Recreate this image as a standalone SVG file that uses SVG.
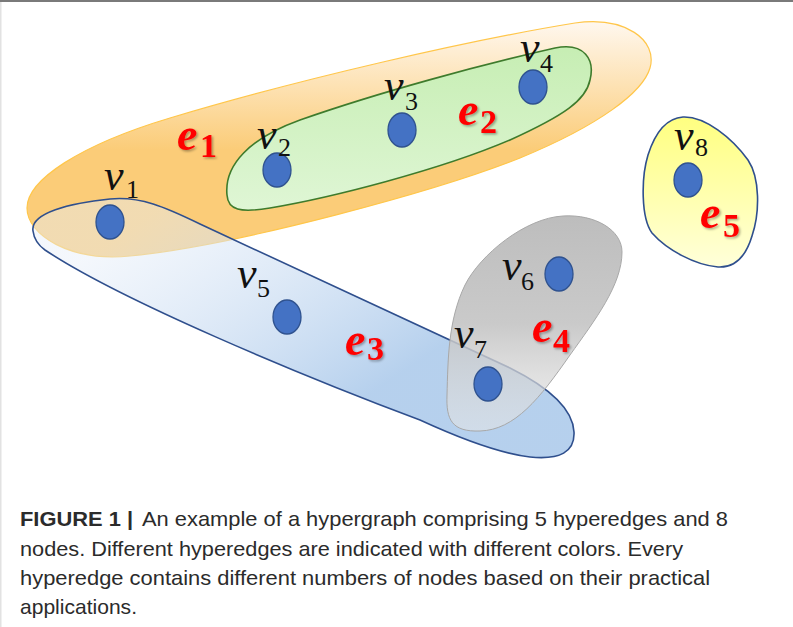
<svg xmlns="http://www.w3.org/2000/svg" width="793" height="627" viewBox="0 0 793 627">
  <defs>
    <linearGradient id="gE1" gradientUnits="userSpaceOnUse" x1="0" y1="20" x2="0" y2="150">
      <stop offset="0" stop-color="#FFF8F0"/>
      <stop offset="1" stop-color="#FBCC78"/>
    </linearGradient>
    <linearGradient id="gE2" gradientUnits="userSpaceOnUse" x1="0" y1="50" x2="0" y2="210">
      <stop offset="0" stop-color="#C7EEB4"/>
      <stop offset="1" stop-color="#DFF6D5"/>
    </linearGradient>
    <linearGradient id="gE3" gradientUnits="userSpaceOnUse" x1="150" y1="215" x2="300" y2="440">
      <stop offset="0" stop-color="#E6EEF9" stop-opacity="0.45"/>
      <stop offset="1" stop-color="#A9C8EA" stop-opacity="0.85"/>
    </linearGradient>
    <linearGradient id="gE4" gradientUnits="userSpaceOnUse" x1="0" y1="216" x2="0" y2="432">
      <stop offset="0" stop-color="#BDBDBD" stop-opacity="1"/>
      <stop offset="0.5" stop-color="#C4C4C4" stop-opacity="0.9"/>
      <stop offset="1" stop-color="#E6E6E6" stop-opacity="0.55"/>
    </linearGradient>
    <linearGradient id="gE5" gradientUnits="userSpaceOnUse" x1="0" y1="117" x2="0" y2="268">
      <stop offset="0" stop-color="#FFFF80"/>
      <stop offset="1" stop-color="#FFFFDA"/>
    </linearGradient>
    <filter id="sh" x="-20%" y="-20%" width="140%" height="140%">
      <feDropShadow dx="1.5" dy="1.5" stdDeviation="1" flood-color="#000" flood-opacity="0.35"/>
    </filter>
  </defs>
  <style>
    .node { fill: #4472C4; stroke: #2F528F; stroke-width: 1.3; }
    .v { font-family: "Liberation Serif", "DejaVu Serif", serif; font-style: italic; font-size: 44px; fill: #111; }
    .vs { font-family: "Liberation Serif", "DejaVu Serif", serif; font-style: normal; font-size: 26px; fill: #111; }
    .e { font-family: "Liberation Serif", "DejaVu Serif", serif; font-style: italic; font-weight: bold; font-size: 46px; fill: #FF0000; filter: url(#sh); }
    .es { font-family: "Liberation Serif", "DejaVu Serif", serif; font-style: normal; font-weight: bold; font-size: 34px; fill: #FF0000; }
    .cap { font-family: "Liberation Sans", Arial, sans-serif; font-size: 21px; fill: #2B2B2B; }
    .capb { font-family: "Liberation Sans", Arial, sans-serif; font-size: 21px; font-weight: bold; fill: #2B2B2B; }
  </style>

  <rect x="0" y="0" width="793" height="627" fill="#FFFFFF"/>
  <rect x="0" y="0" width="793" height="2" fill="#7A7A7A"/>
  <rect x="0" y="2" width="1.5" height="625" fill="#E2E2E2"/>

  <g id="hyperedges">
    <g id="e1">
      <path d="M 27,208 C 27,180 80,145 170,118 C 300,79 470,40 575,23 C 625,16 658,40 650,68 C 643,92 600,125 520,158 C 440,190 240,245 130,256 C 70,262 27,235 27,208 Z" fill="url(#gE1)" stroke="#FFC64A" stroke-width="1.2"/>
    </g>
    <g id="e2">
      <path d="M 227,195 C 224,165 250,138 300,120 C 380,92 480,65 555,48 C 585,42 595,60 590,80 C 586,100 565,115 510,140 C 440,170 330,198 270,208 C 240,213 228,210 227,195 Z" fill="url(#gE2)" stroke="#3E7B2C" stroke-width="1.6"/>
    </g>
    <g id="e3">
      <path d="M 33,231 C 30,213 70,203 110,199 C 140,196 165,207 200,224 L 510,368 C 550,388 573,410 574,432 C 575,452 560,460 530,457 C 505,454 470,443 420,420 C 300,375 120,300 45,250 C 38,245 34,239 33,231 Z" fill="url(#gE3)" stroke="#2F4F8D" stroke-width="1.6"/>
    </g>
    <g id="e4">
      <path d="M 563,216 C 595,214 622,230 622,252 C 622,285 595,320 570,355 C 540,398 515,430 480,431 C 452,432 446,420 447,395 C 448,360 448,320 465,285 C 480,255 525,218 563,216 Z" fill="url(#gE4)" stroke="#A8A8A8" stroke-width="1"/>
    </g>
    <g id="e5">
      <path d="M 683,117 C 705,116 732,138 748,160 C 760,178 760,212 752,236 C 746,256 735,268 718,267 C 695,265 667,250 652,233 C 641,218 641,178 648,155 C 656,130 668,118 683,117 Z" fill="url(#gE5)" stroke="#2F4F8D" stroke-width="1.6"/>
    </g>
  </g>

  <g id="connectors"></g>

  <g id="edge-labels">
    <text class="e" x="177" y="150">e<tspan class="es" x="200" y="157">1</tspan></text>
    <text class="e" x="458" y="125">e<tspan class="es" x="480" y="133">2</tspan></text>
    <text class="e" x="345" y="355">e<tspan class="es" x="367" y="360">3</tspan></text>
    <text class="e" x="532" y="342">e<tspan class="es" x="553" y="352">4</tspan></text>
    <text class="e" x="700" y="228">e<tspan class="es" x="723" y="237">5</tspan></text>
  </g>

  <g id="v1"><ellipse class="node" cx="110" cy="222" rx="14" ry="17"/><text class="v" x="104" y="190">v<tspan class="vs" x="126" y="198">1</tspan></text></g>
  <g id="v2"><ellipse class="node" cx="277" cy="170" rx="14" ry="17"/><text class="v" x="257" y="149">v<tspan class="vs" x="278" y="156">2</tspan></text></g>
  <g id="v3"><ellipse class="node" cx="402" cy="130" rx="14" ry="17"/><text class="v" x="384" y="100">v<tspan class="vs" x="405" y="110">3</tspan></text></g>
  <g id="v4"><ellipse class="node" cx="533" cy="87" rx="14" ry="17"/><text class="v" x="520" y="62">v<tspan class="vs" x="540" y="72">4</tspan></text></g>
  <g id="v5"><ellipse class="node" cx="287" cy="317" rx="14" ry="17"/><text class="v" x="237" y="288">v<tspan class="vs" x="257" y="297">5</tspan></text></g>
  <g id="v6"><ellipse class="node" cx="559" cy="274" rx="14" ry="17"/><text class="v" x="502" y="280">v<tspan class="vs" x="521" y="290">6</tspan></text></g>
  <g id="v7"><ellipse class="node" cx="488" cy="384" rx="14" ry="17"/><text class="v" x="454" y="348">v<tspan class="vs" x="474" y="358">7</tspan></text></g>
  <g id="v8"><ellipse class="node" cx="688" cy="180" rx="14" ry="17"/><text class="v" x="674" y="150">v<tspan class="vs" x="695" y="156">8</tspan></text></g>

  <g id="caption">
    <text class="capb" x="20" y="526" textLength="113" lengthAdjust="spacingAndGlyphs">FIGURE 1 |</text>
    <text class="cap" x="142" y="526" textLength="586" lengthAdjust="spacingAndGlyphs">An example of a hypergraph comprising 5 hyperedges and 8</text>
    <text class="cap" x="20" y="556" textLength="663" lengthAdjust="spacingAndGlyphs">nodes. Different hyperedges are indicated with different colors. Every</text>
    <text class="cap" x="20" y="585" textLength="690" lengthAdjust="spacingAndGlyphs">hyperedge contains different numbers of nodes based on their practical</text>
    <text class="cap" x="20" y="614" textLength="117" lengthAdjust="spacingAndGlyphs">applications.</text>
  </g>
</svg>
